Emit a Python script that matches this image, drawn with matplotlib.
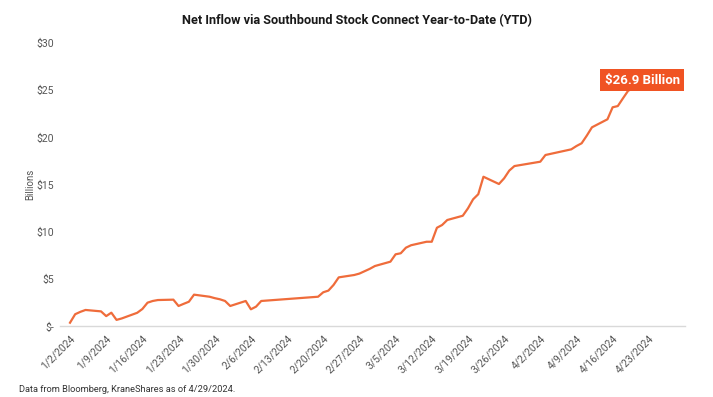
#!/usr/bin/env python3
"""
Net inflow via Southbound Stock Connect, year-to-date
"""

import matplotlib.dates as mdates
import matplotlib.pyplot as plt
import pandas as pd
from matplotlib.ticker import FuncFormatter

plt.rcParams["font.family"] = ["Roboto", "DejaVu Sans"]

# trading days (HK southbound) and cumulative net inflow, USD billions
dates = [
    "2024-01-02", "2024-01-03", "2024-01-04", "2024-01-05", "2024-01-08",
    "2024-01-09", "2024-01-10", "2024-01-11", "2024-01-12", "2024-01-15",
    "2024-01-16", "2024-01-17", "2024-01-18", "2024-01-19", "2024-01-22",
    "2024-01-23", "2024-01-24", "2024-01-25", "2024-01-26", "2024-01-29",
    "2024-01-30", "2024-01-31", "2024-02-01", "2024-02-02", "2024-02-05",
    "2024-02-06", "2024-02-07", "2024-02-08", "2024-02-19", "2024-02-20",
    "2024-02-21", "2024-02-22", "2024-02-23", "2024-02-26", "2024-02-27",
    "2024-02-28", "2024-02-29", "2024-03-01", "2024-03-04", "2024-03-05",
    "2024-03-06", "2024-03-07", "2024-03-08", "2024-03-11", "2024-03-12",
    "2024-03-13", "2024-03-14", "2024-03-15", "2024-03-18", "2024-03-19",
    "2024-03-20", "2024-03-21", "2024-03-22", "2024-03-25", "2024-03-26",
    "2024-03-27", "2024-03-28", "2024-04-02", "2024-04-03", "2024-04-08",
    "2024-04-09", "2024-04-10", "2024-04-11", "2024-04-12", "2024-04-15",
    "2024-04-16", "2024-04-17", "2024-04-18", "2024-04-19", "2024-04-22",
    "2024-04-23", "2024-04-24", "2024-04-25", "2024-04-26",
]
inflow = [
    0.40, 1.30, 1.55, 1.75, 1.60,
    1.10, 1.46, 0.70, 0.85, 1.45,
    1.85, 2.52, 2.70, 2.80, 2.84,
    2.17, 2.40, 2.62, 3.37, 3.15,
    3.00, 2.88, 2.70, 2.17, 2.70,
    1.82, 2.10, 2.70, 3.15, 3.62,
    3.80, 4.40, 5.20, 5.45, 5.60,
    5.85, 6.10, 6.40, 6.86, 7.64,
    7.75, 8.34, 8.60, 8.97, 8.97,
    10.45, 10.74, 11.27, 11.72, 12.50,
    13.46, 14.00, 15.85, 15.08, 15.68,
    16.50, 16.98, 17.44, 18.15, 18.75,
    19.10, 19.39, 20.20, 21.08, 21.93,
    23.20, 23.33, 24.15, 24.95, 25.80,
    26.20, 26.50, 26.70, 26.90,
]
tick_dates = pd.date_range("2024-01-02", "2024-04-23", freq="7D")
y_ticks = [0, 5, 10, 15, 20, 25, 30]
callout = "$26.9 Billion"

LINE_COLOR = "#EF6C3B"
BOX_COLOR = "#F05323"
TEXT_GRAY = "#555555"


def money(v, _pos):
    return "$-" if v == 0 else f"${v:.0f}"


def short_date(v, _pos):
    d = mdates.num2date(v)
    return f"{d.month}/{d.day}/{d.year}"


fig = plt.figure(figsize=(7.13, 3.97), dpi=100)
ax = fig.add_axes([0.0837, 0.1776, 0.877, 0.714])

x = pd.to_datetime(dates)
ax.plot(x, inflow, color=LINE_COLOR, linewidth=1.6, solid_joinstyle="round")

ax.set_xlim(pd.Timestamp("2023-12-31"), pd.Timestamp("2024-04-30"))
ax.set_ylim(0, 30)

ax.set_xticks(tick_dates)
ax.xaxis.set_major_formatter(FuncFormatter(short_date))
ax.set_yticks(y_ticks)
ax.yaxis.set_major_formatter(FuncFormatter(money))

for lbl in ax.get_xticklabels():
    lbl.set_rotation(45)
    lbl.set_ha("right")
    lbl.set_va("top")
    lbl.set_rotation_mode("anchor")

ax.tick_params(axis="both", length=0, labelsize=7.5, labelcolor=TEXT_GRAY)
ax.tick_params(axis="x", pad=5)
ax.tick_params(axis="y", pad=4)

for side in ("top", "right", "left"):
    ax.spines[side].set_visible(False)
ax.spines["bottom"].set_color("#D9D9D9")
ax.spines["bottom"].set_linewidth(1.0)

ax.set_ylabel("Billions", fontsize=7, color=TEXT_GRAY, labelpad=1)

ax.annotate(
    callout,
    xy=(x[-1], inflow[-1]),
    xytext=(-22, -8),
    textcoords="offset pixels",
    ha="center",
    va="center",
    fontsize=9.5,
    fontweight="bold",
    color="white",
    bbox=dict(boxstyle="square,pad=0.35", facecolor=BOX_COLOR, edgecolor="none"),
    zorder=5,
)

fig.suptitle(
    "Net Inflow via Southbound Stock Connect Year-to-Date (YTD)",
    x=0.5,
    y=0.965,
    fontsize=9.2,
    fontweight="bold",
    color="#1A1A1A",
)
fig.text(
    0.027,
    0.012,
    "Data from Bloomberg, KraneShares as of 4/29/2024.",
    fontsize=6.7,
    color="#333333",
)

fig.savefig("out.png", dpi=100)
